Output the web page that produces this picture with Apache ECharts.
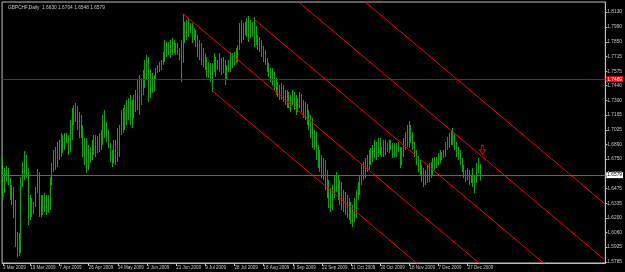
<!DOCTYPE html>
<html><head><meta charset="utf-8">
<script src="https://cdn.jsdelivr.net/npm/echarts@6/dist/echarts.min.js"></script>
<style>html,body{margin:0;padding:0;background:#000;}#c{width:625px;height:272px;}</style>
</head><body><div id="c"></div>
<script>
const symbolName = 'GBPCHF';
const period = 'Daily';

const opens = [
1.6695,1.6461,1.6601,1.6648,1.6554,1.6414,1.6367,1.6254,1.5992,1.5898,
1.6010,1.6536,1.6648,1.6761,1.6629,1.6198,1.6320,1.6254,1.6320,1.6442,
1.6601,1.6273,1.6367,1.6273,1.6386,1.6292,1.6367,1.6536,1.6667,1.6789,
1.6742,1.6855,1.6883,1.6948,1.6855,1.6958,1.6930,1.6836,1.7070,1.7192,
1.7136,1.7230,1.7070,1.7136,1.7023,1.6836,1.6883,1.6695,1.6836,1.6761,
1.6883,1.6836,1.6930,1.6855,1.6948,1.6976,1.7117,1.7042,1.6976,1.6883,
1.6761,1.6817,1.6883,1.6742,1.6976,1.7042,1.7164,1.7070,1.7192,1.7211,
1.7258,1.7136,1.7211,1.7305,1.7230,1.7417,1.7305,1.7445,1.7511,1.7605,
1.7539,1.7352,1.7474,1.7417,1.7492,1.7567,1.7605,1.7633,1.7661,1.7727,
1.7820,1.7755,1.7811,1.7755,1.7849,1.7774,1.7802,1.7755,1.7717,1.7820,
1.8008,1.7886,1.8008,1.7961,1.7989,1.7886,1.7942,1.7849,1.7774,1.7727,
1.7680,1.7708,1.7633,1.7586,1.7539,1.7511,1.7586,1.7699,1.7605,1.7652,
1.7680,1.7586,1.7661,1.7511,1.7586,1.7652,1.7708,1.7661,1.7727,1.7699,
1.7792,1.7961,1.7914,1.7980,1.7942,1.8036,1.7914,1.8008,1.7933,1.7980,
1.7867,1.7820,1.7792,1.7755,1.7699,1.7661,1.7605,1.7558,1.7511,1.7539,
1.7445,1.7399,1.7417,1.7352,1.7417,1.7323,1.7352,1.7305,1.7267,1.7323,
1.7286,1.7248,1.7230,1.7286,1.7342,1.7230,1.7192,1.7248,1.7117,1.7070,
1.7005,1.6911,1.6976,1.6789,1.6742,1.6695,1.6648,1.6723,1.6536,1.6442,
1.6367,1.6320,1.6442,1.6536,1.6573,1.6414,1.6479,1.6348,1.6386,1.6292,
1.6320,1.6254,1.6198,1.6273,1.6226,1.6414,1.6479,1.6554,1.6648,1.6601,
1.6723,1.6667,1.6789,1.6742,1.6836,1.6883,1.6789,1.6911,1.6836,1.6817,
1.6883,1.6836,1.6873,1.6901,1.6864,1.6817,1.6855,1.6883,1.6836,1.6723,
1.6817,1.6911,1.6948,1.7023,1.7042,1.6976,1.6883,1.6817,1.6742,1.6667,
1.6629,1.6573,1.6536,1.6601,1.6573,1.6648,1.6629,1.6695,1.6723,1.6742,
1.6770,1.6789,1.6770,1.6808,1.6873,1.6930,1.6967,1.6995,1.6948,1.6873,
1.6817,1.6770,1.6723,1.6667,1.6601,1.6573,1.6629,1.6554,1.6573,1.6536,
1.6573,1.6667,1.6630
];
const closes = [
1.6461,1.6601,1.6648,1.6554,1.6414,1.6367,1.6254,1.5992,1.5898,1.6010,
1.6536,1.6648,1.6761,1.6629,1.6198,1.6320,1.6254,1.6320,1.6442,1.6601,
1.6273,1.6367,1.6273,1.6386,1.6292,1.6367,1.6536,1.6667,1.6789,1.6742,
1.6855,1.6883,1.6948,1.6855,1.6958,1.6930,1.6836,1.7070,1.7192,1.7136,
1.7230,1.7070,1.7136,1.7023,1.6836,1.6883,1.6695,1.6836,1.6761,1.6883,
1.6836,1.6930,1.6855,1.6948,1.6976,1.7117,1.7042,1.6976,1.6883,1.6761,
1.6817,1.6883,1.6742,1.6976,1.7042,1.7164,1.7070,1.7192,1.7211,1.7258,
1.7136,1.7211,1.7305,1.7230,1.7417,1.7305,1.7445,1.7511,1.7605,1.7539,
1.7352,1.7474,1.7417,1.7492,1.7567,1.7605,1.7633,1.7661,1.7727,1.7820,
1.7755,1.7811,1.7755,1.7849,1.7774,1.7802,1.7755,1.7717,1.7820,1.8008,
1.7886,1.8008,1.7961,1.7989,1.7886,1.7942,1.7849,1.7774,1.7727,1.7680,
1.7708,1.7633,1.7586,1.7539,1.7511,1.7586,1.7699,1.7605,1.7652,1.7680,
1.7586,1.7661,1.7511,1.7586,1.7652,1.7708,1.7661,1.7727,1.7699,1.7792,
1.7961,1.7914,1.7980,1.7942,1.8036,1.7914,1.8008,1.7933,1.7980,1.7867,
1.7820,1.7792,1.7755,1.7699,1.7661,1.7605,1.7558,1.7511,1.7539,1.7445,
1.7399,1.7417,1.7352,1.7417,1.7323,1.7352,1.7305,1.7267,1.7323,1.7286,
1.7248,1.7230,1.7286,1.7342,1.7230,1.7192,1.7248,1.7117,1.7070,1.7005,
1.6911,1.6976,1.6789,1.6742,1.6695,1.6648,1.6723,1.6536,1.6442,1.6367,
1.6320,1.6442,1.6536,1.6573,1.6414,1.6479,1.6348,1.6386,1.6292,1.6320,
1.6254,1.6198,1.6273,1.6226,1.6414,1.6479,1.6554,1.6648,1.6601,1.6723,
1.6667,1.6789,1.6742,1.6836,1.6883,1.6789,1.6911,1.6836,1.6817,1.6883,
1.6836,1.6873,1.6901,1.6864,1.6817,1.6855,1.6883,1.6836,1.6723,1.6817,
1.6911,1.6948,1.7023,1.7042,1.6976,1.6883,1.6817,1.6742,1.6667,1.6629,
1.6573,1.6536,1.6601,1.6573,1.6648,1.6629,1.6695,1.6723,1.6742,1.6770,
1.6789,1.6770,1.6808,1.6873,1.6930,1.6967,1.6995,1.6948,1.6873,1.6817,
1.6770,1.6723,1.6667,1.6601,1.6573,1.6629,1.6554,1.6573,1.6536,1.6573,
1.6667,1.6639,1.6579
];
const lows = [
1.6367,1.6433,1.6536,1.6508,1.6367,1.6320,1.6198,1.5926,1.5832,1.5842,
1.5870,1.6489,1.6554,1.6573,1.6132,1.6179,1.6207,1.6235,1.6301,1.6433,
1.6207,1.6207,1.6226,1.6254,1.6226,1.6245,1.6273,1.6508,1.6629,1.6648,
1.6676,1.6742,1.6770,1.6808,1.6836,1.6901,1.6789,1.6817,1.6930,1.7070,
1.7098,1.7023,1.6948,1.6948,1.6770,1.6695,1.6620,1.6648,1.6714,1.6742,
1.6789,1.6770,1.6808,1.6817,1.6836,1.6883,1.6948,1.6911,1.6855,1.6723,
1.6676,1.6714,1.6695,1.6723,1.6770,1.6976,1.6995,1.7023,1.7070,1.7117,
1.7070,1.7042,1.7136,1.7192,1.7211,1.7164,1.7258,1.7352,1.7417,1.7492,
1.7286,1.7323,1.7370,1.7380,1.7492,1.7558,1.7567,1.7586,1.7633,1.7661,
1.7708,1.7727,1.7699,1.7727,1.7745,1.7727,1.7727,1.7680,1.7474,1.7652,
1.7839,1.7867,1.7896,1.7933,1.7839,1.7867,1.7802,1.7708,1.7680,1.7633,
1.7614,1.7586,1.7520,1.7511,1.7474,1.7380,1.7567,1.7520,1.7586,1.7567,
1.7539,1.7558,1.7445,1.7492,1.7567,1.7567,1.7605,1.7633,1.7652,1.7661,
1.7774,1.7839,1.7867,1.7914,1.7896,1.7849,1.7886,1.7896,1.7802,1.7820,
1.7774,1.7755,1.7708,1.7661,1.7633,1.7567,1.7520,1.7474,1.7445,1.7399,
1.7352,1.7333,1.7305,1.7305,1.7286,1.7258,1.7230,1.7230,1.7192,1.7258,
1.7211,1.7164,1.7192,1.7230,1.7192,1.7136,1.7117,1.7070,1.7023,1.6948,
1.6855,1.6836,1.6742,1.6667,1.6629,1.6573,1.6554,1.6461,1.6386,1.6292,
1.6254,1.6273,1.6386,1.6442,1.6367,1.6320,1.6273,1.6254,1.6226,1.6198,
1.6179,1.6141,1.6113,1.6160,1.6198,1.6367,1.6414,1.6508,1.6554,1.6573,
1.6629,1.6648,1.6695,1.6723,1.6761,1.6742,1.6770,1.6789,1.6770,1.6770,
1.6789,1.6817,1.6808,1.6836,1.6761,1.6761,1.6770,1.6817,1.6667,1.6695,
1.6770,1.6836,1.6864,1.6855,1.6901,1.6836,1.6770,1.6695,1.6629,1.6592,
1.6536,1.6489,1.6508,1.6526,1.6536,1.6573,1.6601,1.6648,1.6667,1.6695,
1.6714,1.6742,1.6761,1.6770,1.6836,1.6855,1.6883,1.6883,1.6836,1.6770,
1.6742,1.6695,1.6629,1.6573,1.6536,1.6554,1.6508,1.6526,1.6489,1.6433,
1.6526,1.6620,1.6548
];
const highs = [
1.6770,1.6667,1.6686,1.6667,1.6573,1.6508,1.6489,1.6367,1.6067,1.6057,
1.6583,1.6723,1.6826,1.6789,1.6667,1.6414,1.6386,1.6348,1.6489,1.6658,
1.6629,1.6414,1.6414,1.6433,1.6414,1.6414,1.6583,1.6714,1.6836,1.6864,
1.6911,1.6930,1.6995,1.6976,1.6995,1.6995,1.6976,1.7117,1.7230,1.7258,
1.7277,1.7248,1.7192,1.7164,1.7070,1.6948,1.6948,1.6883,1.6864,1.6930,
1.6976,1.6976,1.6967,1.6995,1.7023,1.7164,1.7211,1.7098,1.7023,1.6901,
1.6836,1.6930,1.6930,1.7042,1.7070,1.7211,1.7230,1.7258,1.7305,1.7323,
1.7352,1.7305,1.7352,1.7399,1.7492,1.7539,1.7511,1.7586,1.7680,1.7727,
1.7708,1.7586,1.7558,1.7539,1.7605,1.7633,1.7661,1.7680,1.7755,1.7867,
1.7849,1.7849,1.7867,1.7886,1.7867,1.7839,1.7839,1.7792,1.7867,1.8111,
1.8036,1.8055,1.8074,1.8027,1.8027,1.7980,1.7961,1.7914,1.7867,1.7839,
1.7792,1.7745,1.7708,1.7661,1.7652,1.7652,1.7745,1.7708,1.7680,1.7745,
1.7699,1.7708,1.7680,1.7633,1.7680,1.7755,1.7745,1.7755,1.7792,1.7820,
1.8027,1.8055,1.8027,1.8036,1.8074,1.8093,1.8055,1.8036,1.8083,1.7999,
1.7914,1.7896,1.7867,1.7811,1.7774,1.7699,1.7652,1.7605,1.7605,1.7567,
1.7511,1.7474,1.7445,1.7464,1.7445,1.7399,1.7399,1.7380,1.7352,1.7399,
1.7380,1.7352,1.7323,1.7380,1.7361,1.7305,1.7286,1.7267,1.7211,1.7164,
1.7136,1.7023,1.7005,1.6883,1.6836,1.6789,1.6761,1.6742,1.6648,1.6554,
1.6479,1.6508,1.6601,1.6629,1.6601,1.6554,1.6536,1.6461,1.6442,1.6414,
1.6386,1.6348,1.6320,1.6386,1.6461,1.6536,1.6601,1.6695,1.6723,1.6761,
1.6789,1.6836,1.6855,1.6883,1.6930,1.6911,1.6948,1.6948,1.6864,1.6930,
1.6930,1.6901,1.6930,1.6930,1.6901,1.6901,1.6901,1.6911,1.6864,1.6864,
1.6948,1.7005,1.7070,1.7108,1.7070,1.7005,1.6911,1.6836,1.6779,1.6742,
1.6695,1.6667,1.6648,1.6695,1.6714,1.6723,1.6761,1.6770,1.6770,1.6808,
1.6836,1.6817,1.6836,1.6911,1.6958,1.6995,1.7023,1.7042,1.6995,1.6911,
1.6864,1.6836,1.6761,1.6695,1.6648,1.6667,1.6648,1.6601,1.6667,1.6601,
1.6714,1.6761,1.6704
];

const tickBars = [0,15,31,47,63,79,95,111,127,143,159,175,191,207,223,239,255];
const tickLabels = ['3 Mar 2009','19 Mar 2009','7 Apr 2009','26 Apr 2009','14 May 2009','2 Jun 2009',
  '21 Jun 2009','9 Jul 2009','28 Jul 2009','16 Aug 2009','3 Sep 2009','22 Sep 2009','11 Oct 2009',
  '30 Oct 2009','18 Nov 2009','7 Dec 2009','27 Dec 2009'];
const priceTicks = [1.5785,1.5925,1.6060,1.6200,1.6335,1.6475,1.6610,1.6750,1.6890,1.7025,
  1.7165,1.7300,1.7440,1.7575,1.7715,1.7850,1.7990,1.8130];
const bidPrice = 1.6579;
const levelPrice = 1.7489;
// parallel channel lines: [startBar, startPrice], [endBar, endPrice]
const channelLines = [
  [[115,1.7389],[330,1.4293]],
  [[99,1.8111],[330,1.4785]],
  [[137,1.8074],[330,1.5295]],
  [[150,1.8400],[330,1.5808]],
  [[190,1.8351],[330,1.6335]]
];
const arrowBar = 262, arrowPrice = 1.6836;
const totalSlots = 331;

const categories = Array.from({length: totalSlots}, (_, i) => String(i));
const candles = opens.map((o, i) => [o, closes[i], lows[i], highs[i]]);
const last = opens.length - 1;
const header = symbolName + ',' + period + '  ' + opens[last].toFixed(4) + ' ' + highs[last].toFixed(4) + ' ' +
  lows[last].toFixed(4) + ' ' + closes[last].toFixed(4);

const txt = '#c8c8c8';
const fam = 'Liberation Sans, Arial, sans-serif';
const chart = echarts.init(document.getElementById('c'), null, {renderer: 'canvas'});
const series = [{
  type: 'candlestick',
  data: candles,
  barWidth: 1,
  animation: false,
  itemStyle: {color: '#00b400', color0: '#00b400', borderColor: '#00dc00', borderColor0: '#00dc00', borderWidth: 0.8},
  markLine: {
    symbol: 'none', silent: true, animation: false,
    data: [
      {yAxis: bidPrice, lineStyle: {color: '#5c6670', type: 'solid', width: 1},
       label: {show: true, position: 'end', distance: 1, formatter: bidPrice.toFixed(4), backgroundColor: '#ffffff',
               color: '#000', fontSize: 4.8, fontFamily: fam, padding: [1, 1, 0, 1]}},
      {yAxis: levelPrice, lineStyle: {color: '#c80000', type: 'solid', width: 1},
       label: {show: true, position: 'end', distance: 1, formatter: levelPrice.toFixed(4), backgroundColor: '#ff0000',
               color: '#fff', fontSize: 4.8, fontFamily: fam, padding: [1, 1, 0, 1]}}
    ]
  },
  markPoint: {
    silent: true, animation: false,
    data: [{coord: [String(arrowBar), arrowPrice], symbol: 'path://M3,0 L7,0 L7,6 L10,6 L5,12 L0,6 L3,6 Z',
            symbolSize: [6, 9], symbolOffset: [2, 0],
            itemStyle: {color: 'rgba(0,0,0,0)', borderColor: '#e00000', borderWidth: 1}, label: {show: false}}]
  }
}];
channelLines.forEach(seg => series.push({
  type: 'line', data: seg, symbol: 'none', clip: true, animation: false, silent: true,
  lineStyle: {color: '#ff0000', width: 1}
}));

chart.setOption({
  backgroundColor: '#000',
  animation: false,
  title: {text: header, left: 3, top: 0, textStyle: {color: txt, fontSize: 4.8, fontWeight: 'normal', fontFamily: fam}},
  grid: {left: 1, right: 19, top: 2, bottom: 9, show: true, borderColor: '#bfbfbf', borderWidth: 1, backgroundColor: '#000'},
  xAxis: {
    type: 'category', data: categories, boundaryGap: true,
    axisLine: {show: true, lineStyle: {color: '#bfbfbf'}},
    axisTick: {show: true, alignWithLabel: true, length: 3, lineStyle: {color: '#bfbfbf'},
               interval: (i) => tickBars.includes(i)},
    axisLabel: {show: true, interval: (i) => tickBars.includes(i), align: 'left', margin: 2,
                color: txt, fontSize: 4.5, fontFamily: fam,
                formatter: (v, i) => tickLabels[tickBars.indexOf(Number(v))] || ''},
    splitLine: {show: false}
  },
  yAxis: {
    type: 'value', position: 'right', min: 1.5776, max: 1.8224, scale: true,
    axisLine: {show: true, lineStyle: {color: '#bfbfbf'}},
    axisTick: {show: true, length: 2, lineStyle: {color: '#bfbfbf'}, customValues: priceTicks},
    axisLabel: {show: true, margin: 2, color: txt, fontSize: 4.8, fontFamily: fam, customValues: priceTicks,
                formatter: (v) => v.toFixed(4)},
    splitLine: {show: false}
  },
  series: series
});
</script>
</body></html>
